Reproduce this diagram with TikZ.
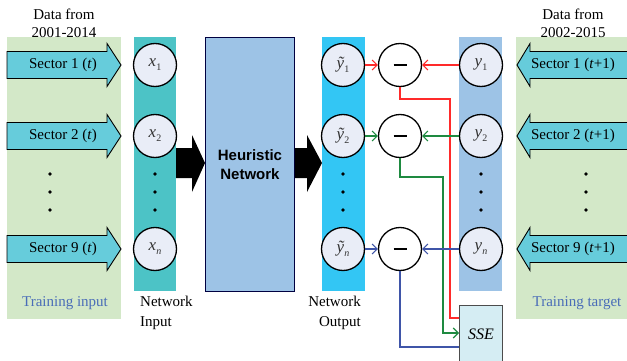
\documentclass[tikz,border=0pt]{standalone}
\usepackage{fontspec}
\setmainfont{Liberation Serif}
\newfontfamily\hsans{Liberation Sans}
\usetikzlibrary{arrows.meta}
\definecolor{panelgreen}{HTML}{D3E8C8}
\definecolor{sectorfill}{HTML}{66CCDB}
\definecolor{incol}{HTML}{4CC3C6}
\definecolor{outcol}{HTML}{33C6F4}
\definecolor{tgtcol}{HTML}{9DC3E6}
\definecolor{circfill}{HTML}{E9EDF7}
\definecolor{ssefill}{HTML}{D5EDF3}
\definecolor{lblue}{HTML}{4A6DB8}
\definecolor{lred}{HTML}{FF2A2A}
\definecolor{lgreen}{HTML}{1E8A40}
\definecolor{lnavy}{HTML}{3F55A8}
\newcommand{\sbs}[1]{\raisebox{-4pt}{\fontsize{10}{10}\selectfont #1}}
\begin{document}
\begin{tikzpicture}[x=1pt,y=-1pt,font=\fontsize{15}{18}\selectfont,
  neuron/.style={circle,draw=black,line width=1.3pt,fill=circfill,minimum size=43pt,inner sep=0pt,
    font=\fontsize{17}{20}\selectfont,text=black!80},
  diff/.style={circle,draw=black,line width=1.3pt,fill=white,minimum size=43pt,inner sep=0pt,
    path picture={\draw[line width=2.6pt] ([xshift=-6.5pt]path picture bounding box.center) -- ([xshift=6.5pt]path picture bounding box.center);}},
  conn/.style={line width=1.1pt},
  tipped/.style={-{Straight Barb[length=5pt,width=10pt,line width=1.1pt]}},
  sdot/.style={circle,fill=black,inner sep=0pt,minimum size=3.6pt},
  sector/.style={draw=black,line width=0.9pt,fill=sectorfill},
  blockarrow/.style={fill=black},
  lbl/.style={inner sep=0pt,align=center}]
\useasboundingbox (0,0) rectangle (627,361);
% panels and columns
\fill[panelgreen] (7,37) rectangle (121,319);
\fill[panelgreen] (516,37) rectangle (627,319);
\fill[incol] (134,37) rectangle (176,291);
\fill[outcol] (322,37) rectangle (365,291);
\fill[tgtcol] (459,37) rectangle (502,291);
% heuristic network
\node[draw=black!75!blue,line width=0.9pt,fill=tgtcol,minimum width=89pt,minimum height=254pt,anchor=north west,align=center,
  font=\hsans\bfseries\fontsize{15}{19}\selectfont] (hn) at (205,37) {Heuristic\\Network};
% block arrows
\fill[blockarrow] (176,148) -- (192,148) -- (192,135) -- (hn.west |- 0,163) -- (192,192) -- (192,178) -- (176,178) -- cycle;
\fill[blockarrow] (hn.east |- 0,148) -- (307,148) -- (307,135) -- (322,163) -- (307,192) -- (307,178) -- (hn.east |- 0,178) -- cycle;
% sector arrows
\foreach \c/\t/\nm in {65/1/sa, 136/2/sb, 249/9/sc}{
  \draw[sector] (7,\c-13.5) -- (107,\c-13.5) -- (107,\c-21.5) -- (121,\c) -- (107,\c+21.5) -- (107,\c+13.5) -- (7,\c+13.5) -- cycle;
  \node[lbl] (\nm) at (63,\c) {Sector \t\ (\textit{t})};
  \draw[sector] (640,\c-13.5) -- (530,\c-13.5) -- (530,\c-21.5) -- (517,\c) -- (530,\c+21.5) -- (530,\c+13.5) -- (640,\c+13.5) -- cycle;
  \node[lbl] (\nm r) at (573,\c) {Sector \t\ (\textit{t}+1)};
}
% dots
\foreach \x/\nm in {50/la,155/ia,343/oa,481/ta,586/ra}{
  \node[sdot] (\nm1) at (\x,174) {};
  \node[sdot] (\nm2) at (\x,192) {};
  \node[sdot] (\nm3) at (\x,210) {};
}
% neurons
\node[neuron] (x1) at (155,65) {\textit{x}\sbs{1}};
\node[neuron] (x2) at (155,136) {\textit{x}\sbs{2}};
\node[neuron] (xn) at (155,249) {\textit{x}\sbs{\textit{n}}};
\node[neuron] (yt1) at (343,65) {\textit{ỹ}\sbs{1}};
\node[neuron] (yt2) at (343,136) {\textit{ỹ}\sbs{2}};
\node[neuron] (ytn) at (343,249) {\textit{ỹ}\sbs{\textit{n}}};
\node[neuron] (y1) at (481,65) {\textit{y}\sbs{1}};
\node[neuron] (y2) at (481,136) {\textit{y}\sbs{2}};
\node[neuron] (yn) at (481,249) {\textit{y}\sbs{\textit{n}}};
\node[diff] (m1) at (400,65) {};
\node[diff] (m2) at (400,136) {};
\node[diff] (mn) at (400,249) {};
% SSE
\node[draw=black!70,line width=0.9pt,fill=ssefill,minimum width=43pt,minimum height=58pt,anchor=north west,inner sep=0pt,
  font=\fontsize{16}{18}\selectfont] (sse) at (459,305) {\textit{SSE}};
% connectors
\draw[conn,lred] (m1.south) |- (450,99) |- ([yshift=-13pt]sse.north west);
\draw[conn,lgreen,tipped] (m2.south) |- (443,177) |- ([yshift=-28pt]sse.north west);
\draw[conn,lnavy] (mn.south) |- ([yshift=-42pt]sse.north west);
\draw[conn,lred,tipped] (yt1) -- (m1);
\draw[conn,lred,tipped] (y1) -- (m1);
\draw[conn,lgreen,tipped] (yt2) -- (m2);
\draw[conn,lgreen,tipped] (y2) -- (m2);
\draw[conn,lnavy,tipped] (ytn) -- (mn);
\draw[conn,lnavy,tipped] (yn) -- (mn);
% labels
\node[lbl] (dl) at (64,23) {Data from\\2001-2014};
\node[lbl] (dr) at (573,23) {Data from\\2002-2015};
\node[lbl,text=lblue] (ti) at (65,303) {Training input};
\node[lbl,text=lblue] (tt) at (577,303) {Training target};
\node[lbl,align=left,anchor=west,font=\fontsize{15}{20}\selectfont] (ni) at (140,313) {Network\\Input};
\node[lbl,align=right,anchor=east,font=\fontsize{15}{20}\selectfont] (no) at (361,313) {Network\\Output};
\end{tikzpicture}
\end{document}
